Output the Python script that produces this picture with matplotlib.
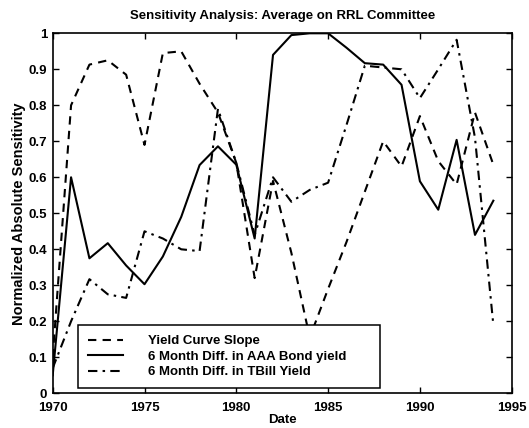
import matplotlib
matplotlib.use("Agg")
import matplotlib.pyplot as plt

years = list(range(1970, 1995))
yield_curve_slope = [0.10, 0.80, 0.913, 0.925, 0.885, 0.69, 0.945, 0.95, 0.86, 0.78,
                     0.64, 0.32, 0.59, 0.39, 0.155, 0.29, 0.42, 0.56, 0.70, 0.63,
                     0.77, 0.645, 0.58, 0.78, 0.635]
aaa_bond = [0.05, 0.60, 0.375, 0.417, 0.355, 0.303, 0.38, 0.49, 0.634, 0.686,
            0.635, 0.43, 0.94, 0.995, 1.0, 1.0, 0.96, 0.917, 0.913, 0.857,
            0.589, 0.51, 0.704, 0.44, 0.535]
tbill = [0.07, 0.20, 0.317, 0.275, 0.265, 0.45, 0.43, 0.40, 0.395, 0.79,
         0.64, 0.44, 0.60, 0.532, 0.565, 0.585, 0.745, 0.91, 0.905, 0.90,
         0.82, 0.90, 0.982, 0.71, 0.19]
labels = ["Yield Curve Slope", "6 Month Diff. in AAA Bond yield", "6 Month Diff. in TBill Yield"]
title = "Sensitivity Analysis: Average on RRL Committee"
xticks = [1970, 1975, 1980, 1985, 1990, 1995]
yticks = [0, 0.1, 0.2, 0.3, 0.4, 0.5, 0.6, 0.7, 0.8, 0.9, 1]
ytick_labels = ["0", "0.1", "0.2", "0.3", "0.4", "0.5", "0.6", "0.7", "0.8", "0.9", "1"]

plt.rcParams['font.family'] = ['Liberation Sans', 'DejaVu Sans']
plt.rcParams['font.weight'] = 'bold'

fig = plt.figure(figsize=(5.29, 4.28), dpi=100)
ax = fig.add_axes([52.7/529, 1-393.3/428, (511.7-52.7)/529, (393.3-33.3)/428])

lw = 1.5
ax.plot(years, yield_curve_slope, color='black', lw=lw, linestyle=(0, (4, 3)), label=labels[0])
ax.plot(years, aaa_bond, color='black', lw=lw, linestyle='-', label=labels[1])
ax.plot(years, tbill, color='black', lw=lw, linestyle=(0, (4.5, 2.5, 1.2, 2.5)), label=labels[2])

ax.set_xlim(1970, 1995)
ax.set_ylim(0, 1)
ax.set_xticks(xticks)
ax.set_xticklabels([str(t) for t in xticks])
ax.set_yticks(yticks)
ax.set_yticklabels(ytick_labels)
ax.tick_params(direction='in', top=True, right=True, length=4, width=1.0,
               labelsize=9.5)
ax.tick_params(axis='x', pad=6.5)
ax.tick_params(axis='y', pad=4)
for s in ax.spines.values():
    s.set_linewidth(1.2)

ax.set_title(title, fontsize=9.5, fontweight='bold', pad=10)
ax.set_xlabel("Date", fontsize=9.5, fontweight='bold', labelpad=0)
ax.set_ylabel("Normalized Absolute Sensitivity", fontsize=10.5, fontweight='bold', labelpad=2)

leg = ax.legend(loc='lower left', bbox_to_anchor=(0.055, 0.014, 0.658, 0.185),
                mode='expand', fontsize=9.5, frameon=True, fancybox=False,
                edgecolor='black', framealpha=1, handlelength=2.65, handletextpad=1.9,
                borderaxespad=0, labelspacing=0.25, borderpad=0.75)
leg.get_frame().set_linewidth(1.1)

fig.savefig("out.png", dpi=100)
